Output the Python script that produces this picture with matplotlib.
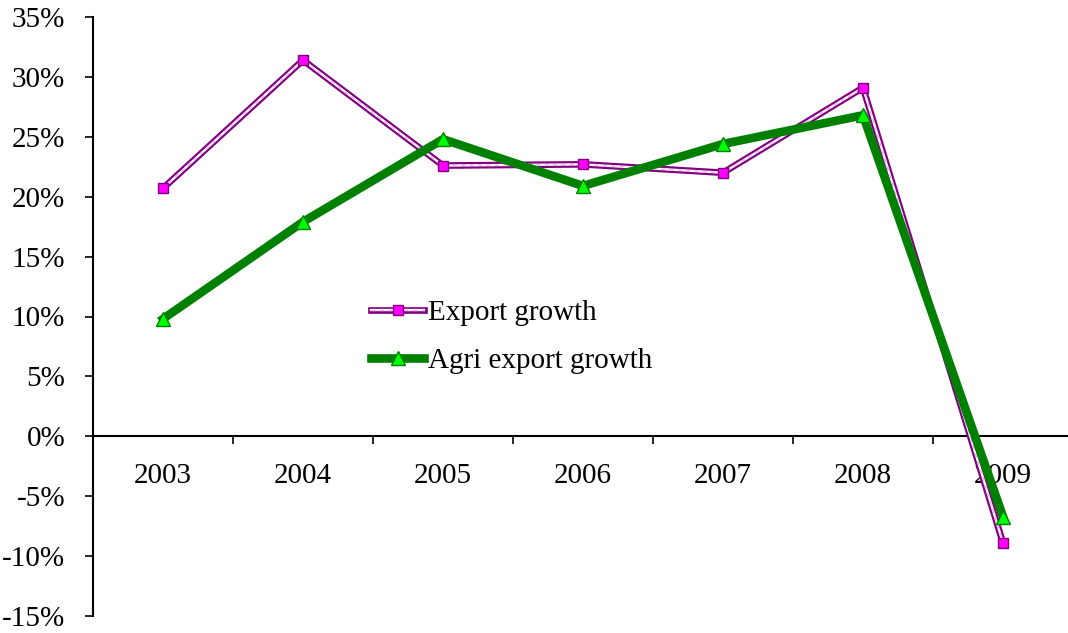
import matplotlib
matplotlib.use('Agg')
import matplotlib.pyplot as plt
from matplotlib.lines import Line2D
from matplotlib.legend_handler import HandlerTuple
from matplotlib.ticker import FixedLocator, PercentFormatter

plt.rcParams['font.family'] = ['Liberation Serif', 'DejaVu Serif']
plt.rcParams['axes.unicode_minus'] = False

years = ['2003', '2004', '2005', '2006', '2007', '2008', '2009']
export_growth = [20.7, 31.4, 22.6, 22.7, 22.0, 29.1, -8.9]
agri_export_growth = [9.8, 17.9, 24.8, 20.9, 24.4, 26.8, -6.7]

x = list(range(len(years)))

fig = plt.figure(figsize=(10.68, 6.33), dpi=100)
ax = fig.add_axes([93 / 1068, 17 / 633, 980 / 1068, 599 / 633])

# export growth: purple double line with magenta square markers
ax.plot(x, export_growth, color='#800080', lw=4.8, zorder=3)
ax.plot(x, export_growth, color='white', lw=1.7, zorder=4)
ax.plot(x, export_growth, color='#E8B0E8', lw=1.0, ls=(0, (3, 3)), zorder=4)
ax.plot(x, export_growth, ls='none', marker='s', ms=7.5, mfc='#FF00FF',
        mec='#800080', mew=1, zorder=5)

# agri export growth: thick green line with lime triangles
ax.plot(x, agri_export_growth, color='#008000', lw=6.2, zorder=6)
ax.plot(x, agri_export_growth, ls='none', marker='^', ms=9.5, mfc='#00FF00',
        mec='#008000', mew=1, zorder=7)

ax.set_xlim(-0.5, len(years) - 0.5)
ax.set_ylim(-15, 35)
ax.set_yticks(range(-15, 40, 5))
ax.yaxis.set_major_formatter(PercentFormatter(decimals=0))

ax.spines['top'].set_visible(False)
ax.spines['right'].set_visible(False)
ax.spines['bottom'].set_position(('data', 0))
ax.spines['left'].set_linewidth(1.5)
ax.spines['bottom'].set_linewidth(1.5)

ax.set_xticks(x)
ax.set_xticklabels(years)
ax.xaxis.set_minor_locator(FixedLocator([i + 0.5 for i in x[:-1]]))
ax.tick_params(axis='x', which='major', length=0, pad=19, labelsize=21)
ax.tick_params(axis='x', which='minor', length=6, width=1.2, direction='out')
ax.tick_params(axis='y', length=6, width=1.2, pad=14, labelsize=21)

h1 = (Line2D([], [], color='#800080', lw=4.8),
      Line2D([], [], color='white', lw=1.7),
      Line2D([], [], color='#E8B0E8', lw=1.0, ls=(0, (3, 3))),
      Line2D([], [], ls='none', marker='s', ms=7.5, mfc='#FF00FF', mec='#800080'))
h2 = (Line2D([], [], color='#008000', lw=6.2),
      Line2D([], [], ls='none', marker='^', ms=9.5, mfc='#00FF00', mec='#008000'))
fig.legend([h1, h2], ['Export growth', 'Agri export growth'],
           handler_map={tuple: HandlerTuple(ndivide=1)},
           loc='upper left', bbox_to_anchor=(351 / 1068, 1 - 279 / 633),
           frameon=False, fontsize=21, handlelength=1.8, handletextpad=0.15,
           labelspacing=0.75, borderpad=0.2)

fig.savefig('out.png', dpi=100)
